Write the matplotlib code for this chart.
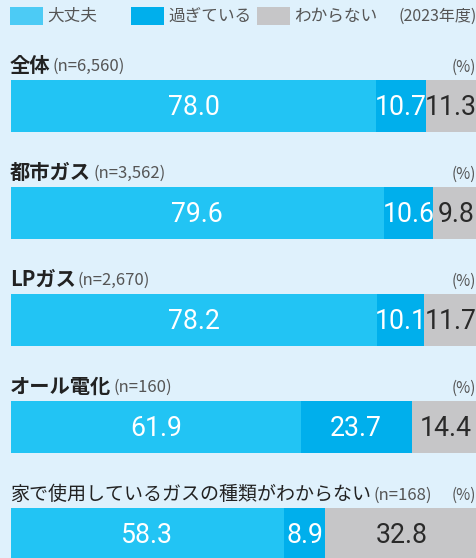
import matplotlib.pyplot as plt
from matplotlib.patches import Rectangle

plt.rcParams['font.family'] = ['Noto Sans CJK JP', 'DejaVu Sans']

# Dati
gruppi = ['全体', '都市ガス', 'LPガス', 'オール電化', '家で使用しているガスの種類がわからない']
campioni = ['(n=6,560)', '(n=3,562)', '(n=2,670)', '(n=160)', '(n=168)']
ok = [78.0, 79.6, 78.2, 61.9, 58.3]
troppo = [10.7, 10.6, 10.1, 23.7, 8.9]
non_so = [11.3, 9.8, 11.7, 14.4, 32.8]
serie = ['大丈夫', '過ぎている', 'わからない']

# Colori
bg = '#dff1fc'
colori = ['#22c4f4', '#00afec', '#c6c6c8']
col_legenda = ['#4ccbf5', '#00afec', '#c6c6c8']
testo_val = ['white', 'white', '#2a2a2a']

W, H = 477, 558
fig = plt.figure(figsize=(W / 100, H / 100), dpi=100, facecolor=bg)

# asse che copre tutta la figura: 0% a x=11px, 100% a x=479px
passo = 107.0
centro0 = 106.0
ax = fig.add_axes([11 / W, 0, (W - 11) / W, 1])
ax.set_facecolor(bg)
ax.set_xlim(0, 100 * (W - 11) / 468)
ax.set_ylim((H - centro0) / passo, -centro0 / passo)
ax.axis('off')

h = 52 / passo
y = list(range(len(gruppi)))
sinistra = [0] * len(gruppi)
for valori, col, tcol in zip([ok, troppo, non_so], colori, testo_val):
    ax.barh(y, valori, left=sinistra, height=h, color=col, linewidth=0, clip_on=True)
    for i, v in enumerate(valori):
        lab = f'{v:.1f}'
        xc = sinistra[i] + v / 2
        if len(lab) >= 4:
            xc = min(xc, 94.0)  # non uscire dal bordo destro
        ax.text(xc, i + 0.01, lab, ha='center', va='center',
                color=tcol, fontsize=19.2, family='Roboto')
    sinistra = [s + v for s, v in zip(sinistra, valori)]

# Titoli dei gruppi
for i, (g, n) in enumerate(zip(gruppi, campioni)):
    peso = 'bold' if i < 4 else 'normal'
    fs = 14.6 if i < 4 else 13.7
    t = ax.text(-1.0 * 100 / 468, i - h / 2 - 8 / passo, g, ha='left', va='baseline',
                fontsize=fs, fontweight=peso, color='#222222')
    ax.annotate(n, xy=(1, 0), xycoords=t, xytext=(1.5, 1), textcoords='offset points',
                ha='left', va='bottom', fontsize=12, color='#555555')
    ax.text(100 * (W - 12) / 468, i - h / 2 - 8 / passo, '(%)', ha='right', va='baseline',
            fontsize=11, color='#555555')

# Legenda manuale
pos_patch = [10, 131, 257]
for x0, col, lab in zip(pos_patch, col_legenda, serie):
    fig.add_artist(Rectangle((x0 / W, 1 - 25 / H), 33 / W, 18 / H,
                             transform=fig.transFigure, color=col, lw=0))
    fig.text((x0 + 37) / W, 1 - 16 / H, lab, ha='left', va='center',
             fontsize=12, color='#555555')
fig.text(477 / W, 1 - 16 / H, '(2023年度)', ha='right', va='center',
         fontsize=11.5, color='#555555')

fig.savefig('out.png', dpi=100, facecolor=bg)
